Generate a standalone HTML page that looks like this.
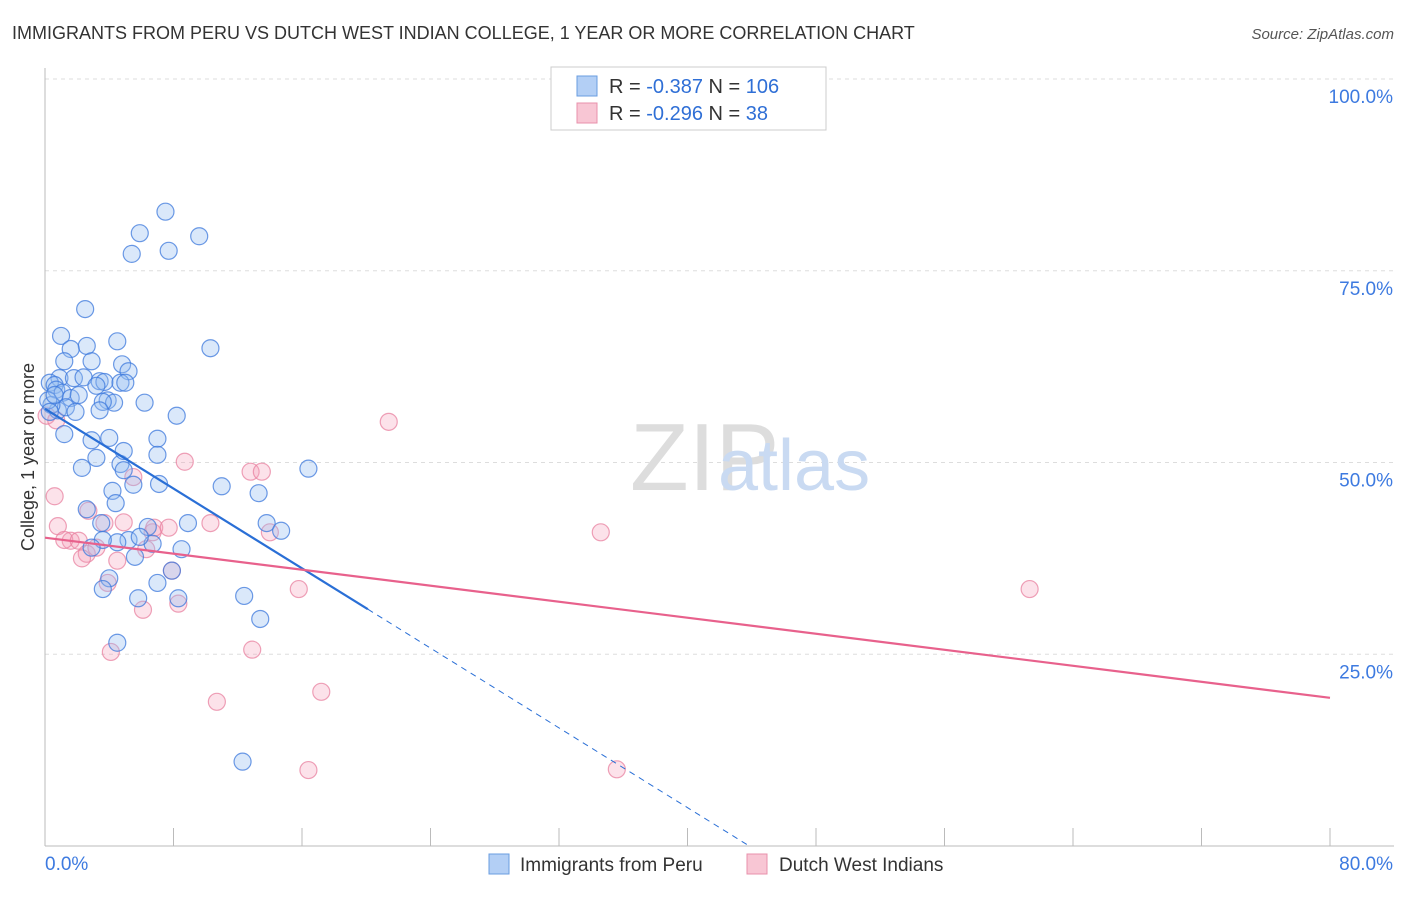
<!DOCTYPE html>
<html><head><meta charset="utf-8"><style>
body{margin:0;background:#fff;font-family:"Liberation Sans",sans-serif;}
svg text{font-family:"Liberation Sans",sans-serif;}
</style></head><body>
<svg width="1406" height="892">
<text x="12" y="39" font-size="18" fill="#333">IMMIGRANTS FROM PERU VS DUTCH WEST INDIAN COLLEGE, 1 YEAR OR MORE CORRELATION CHART</text>
<text x="1394" y="39" font-size="15" fill="#555" font-style="italic" text-anchor="end">Source: ZipAtlas.com</text>
<g id="grid"></g>
<g id="axes"></g>
<text x="630" y="490" font-size="96" fill="#ddd" font-family="Liberation Serif">ZIP</text>
<text x="718" y="490" font-size="72" fill="#c9daf2">atlas</text>
<g id="pts"></g>
<g id="lines"></g>
<text transform="translate(34,457) rotate(-90)" font-size="18" fill="#333" text-anchor="middle">College, 1 year or more</text>
<g>
<rect x="551" y="67" width="275" height="63" fill="#fff" stroke="#ccc"/>
<rect x="577" y="76" width="20" height="20" fill="#b3cff5" stroke="#6a9de0"/>
<text x="609" y="93" font-size="20" fill="#333">R = <tspan fill="#2f6fd6">-0.387</tspan>   N = <tspan fill="#2f6fd6">106</tspan></text>
<rect x="577" y="103" width="20" height="20" fill="#f8c6d4" stroke="#e890ab"/>
<text x="609" y="120" font-size="20" fill="#333">R = <tspan fill="#2f6fd6">-0.296</tspan>   N =   <tspan fill="#2f6fd6">38</tspan></text>
</g>
<g>
<rect x="489" y="854" width="20" height="20" fill="#b3cff5" stroke="#6a9de0"/>
<text x="520" y="871" font-size="19" fill="#333">Immigrants from Peru</text>
<rect x="747" y="854" width="20" height="20" fill="#f8c6d4" stroke="#e890ab"/>
<text x="779" y="871" font-size="19" fill="#333">Dutch West Indians</text>
</g>
</svg>
<script>
const blueX=[7.5,5.9,9.6,5.4,7.7,2.5,10.3,1.0,4.5,2.6,1.6,1.2,2.9,4.8,5.2,0.9,1.8,2.4,3.4,3.7,4.7,5.0,0.3,0.6,0.7,1.1,1.6,2.1,3.2,3.9,4.3,3.6,6.2,8.2,0.8,1.3,1.9,3.4,0.4,1.2,2.9,4.0,7.0,2.3,3.2,4.7,4.9,7.0,16.4,4.9,5.5,7.1,11.0,13.3,4.2,4.4,2.6,3.5,6.4,8.9,13.8,14.7,5.2,6.7,4.5,3.6,2.9,5.9,8.5,5.6,7.9,4.0,7.0,3.6,5.8,8.3,12.4,13.4,4.5,12.3,0.2,0.6,0.3];
const blueY=[82.7,79.9,79.5,77.2,77.6,70.0,64.9,66.5,65.8,65.2,64.8,63.2,63.2,62.8,61.9,61.0,61.0,61.1,60.6,60.5,60.4,60.4,60.4,60.1,59.5,59.1,58.4,58.8,60.0,58.1,57.8,57.9,57.8,56.1,56.8,57.2,56.6,56.8,57.5,53.7,52.9,53.2,53.1,49.3,50.6,49.8,51.5,51.0,49.2,49.0,47.1,47.2,46.9,46.0,46.3,44.7,43.9,42.1,41.6,42.1,42.1,41.1,39.9,39.4,39.6,39.9,38.9,40.3,38.7,37.7,35.9,34.9,34.3,33.5,32.3,32.3,32.6,29.6,26.5,11.0,58.1,58.8,56.6];
const pinkX=[0.6,0.8,1.6,1.2,2.1,2.6,3.2,3.7,2.7,3.9,4.9,5.5,6.3,6.7,6.8,7.7,7.9,8.3,6.1,4.1,8.7,10.3,12.8,13.5,14.0,15.8,21.4,34.6,61.3,10.7,12.9,17.2,16.4,35.6,2.3,4.5,0.1,0.7];
const pinkY=[45.6,41.7,39.8,39.9,39.8,38.1,38.9,42.1,43.7,34.3,42.2,48.1,38.7,40.9,41.5,41.5,35.9,31.6,30.8,25.3,50.1,42.1,48.8,48.8,40.9,33.5,55.3,40.9,33.5,18.8,25.6,20.1,9.9,10.0,37.5,37.2,56.1,55.5];
const yTicks=[25,50,75,100];
const xTickLabels=["0.0%","80.0%"];
const blueLine=[57.0,-1.30,20.1];
const pinkLine=[40.2,-0.261];
const NS="http://www.w3.org/2000/svg";
const X=v=>45+v*1285/80, Y=v=>846-v*7.67;
function mk(t,a,p){const e=document.createElementNS(NS,t);for(const k in a)e.setAttribute(k,a[k]);p.appendChild(e);return e;}
const grid=document.getElementById('grid'),axes=document.getElementById('axes');
yTicks.forEach(t=>{
 const l=mk('line',{x1:45,x2:1394,y1:Y(t),y2:Y(t),stroke:'#ddd','stroke-dasharray':'4,4'},grid);
 
 
 const tx=mk('text',{x:1393,y:Y(t)+24,'font-size':19,fill:'#3d7ae0','text-anchor':'end'},axes);
 tx.textContent=t.toFixed(1)+'%';
 
 
});
mk('line',{x1:45,x2:45,y1:68,y2:846,stroke:'#bbb'},axes);
mk('line',{x1:45,x2:1394,y1:846,y2:846,stroke:'#bbb'},axes);
for(let i=0;i<=10;i++){mk('line',{x1:X(i*8),x2:X(i*8),y1:828,y2:846,stroke:'#bbb'},axes);}
const t0=mk('text',{x:45,y:870,'font-size':19,fill:'#3d7ae0'},axes);t0.textContent=xTickLabels[0];


const t1=mk('text',{x:1393,y:870,'font-size':19,fill:'#3d7ae0','text-anchor':'end'},axes);t1.textContent=xTickLabels[1];


const pts=document.getElementById('pts');
pinkX.forEach((x,i)=>{const c=mk('circle',{cx:X(x),cy:Y(pinkY[i]),r:8.5,fill:'rgba(244,160,185,0.3)',stroke:'rgba(232,130,160,0.75)','stroke-width':1.2},pts);
 
 });
blueX.forEach((x,i)=>{const c=mk('circle',{cx:X(x),cy:Y(blueY[i]),r:8.5,fill:'rgba(150,190,240,0.35)',stroke:'rgba(60,120,220,0.75)','stroke-width':1.2},pts);
 
 });
const ln=document.getElementById('lines');
const bz=-blueLine[0]/blueLine[1];
let l1=mk('line',{x1:X(0),y1:Y(blueLine[0]),x2:X(blueLine[2]),y2:Y(blueLine[0]+blueLine[1]*blueLine[2]),stroke:'#2a6fd6','stroke-width':2.2},ln);


let l2=mk('line',{x1:X(blueLine[2]),y1:Y(blueLine[0]+blueLine[1]*blueLine[2]),x2:X(bz),y2:Y(0),stroke:'#2a6fd6','stroke-width':1,'stroke-dasharray':'6,5'},ln);


let l3=mk('line',{x1:X(0),y1:Y(pinkLine[0]),x2:X(80),y2:Y(pinkLine[0]+pinkLine[1]*80),stroke:'#e8618c','stroke-width':2.2},ln);


</script>
</body></html>
